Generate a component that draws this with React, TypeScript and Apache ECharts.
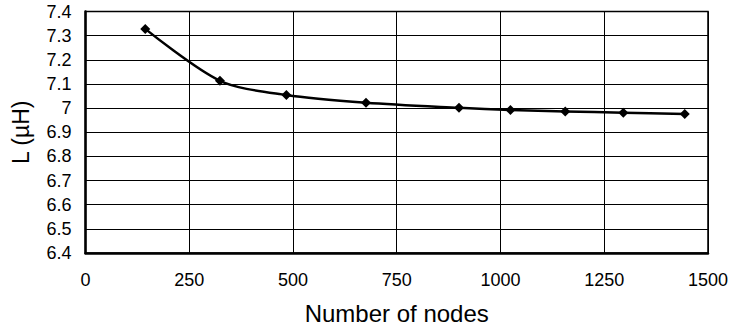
import React, { useEffect, useRef } from "react";
import * as echarts from "echarts";

const nodes = [144, 324, 484, 676, 900, 1024, 1156, 1296, 1444];
const inductance = [7.328, 7.113, 7.054, 7.022, 7.001, 6.992, 6.986, 6.981, 6.976];

export default function App() {
  const ref = useRef<HTMLDivElement>(null);
  useEffect(() => {
    if (!ref.current) return;
    const chart = echarts.init(ref.current, null, { renderer: "svg" });
    const font = "'Liberation Sans', Arial, sans-serif";
    chart.setOption({
      animation: false,
      backgroundColor: "#ffffff",
      grid: {
        left: 85.5,
        top: 11.5,
        right: 20,
        bottom: 76.5,
        show: true,
        borderColor: "#000",
        borderWidth: 1.5,
      },
      xAxis: {
        type: "value",
        min: 0,
        max: 1500,
        interval: 250,
        name: "Number of nodes",
        nameLocation: "middle",
        nameGap: 48,
        nameTextStyle: { fontFamily: font, fontSize: 24, color: "#000" },
        axisLine: { show: true, onZero: false, lineStyle: { color: "#000", width: 2.5 } },
        axisTick: { show: false },
        axisLabel: {
          fontFamily: font,
          fontSize: 18,
          color: "#000",
          margin: 18,
          formatter: (v: number) => String(v),
        },
        splitLine: { show: true, lineStyle: { color: "#000", width: 1 } },
      },
      yAxis: {
        type: "value",
        min: 6.4,
        max: 7.4,
        interval: 0.1,
        name: "L (µH)",
        nameLocation: "middle",
        nameGap: 53,
        nameTextStyle: { fontFamily: font, fontSize: 23, color: "#000" },
        axisLine: { show: true, lineStyle: { color: "#000", width: 2.5 } },
        axisTick: { show: false },
        axisLabel: {
          fontFamily: font,
          fontSize: 18,
          color: "#000",
          margin: 14,
          formatter: (v: number) => String(Math.round(v * 10) / 10),
        },
        splitLine: { show: true, lineStyle: { color: "#000", width: 1 } },
      },
      series: [
        {
          type: "line",
          data: nodes.map((n, i) => [n, inductance[i]]),
          smooth: 0.3,
          symbol: "diamond",
          symbolSize: 10,
          itemStyle: { color: "#000" },
          lineStyle: { color: "#000", width: 2.5 },
        },
      ],
    });
    return () => chart.dispose();
  }, []);
  return (
    <div
      ref={ref}
      style={{ position: "fixed", left: 0, top: 0, width: 731, height: 330 }}
    />
  );
}
